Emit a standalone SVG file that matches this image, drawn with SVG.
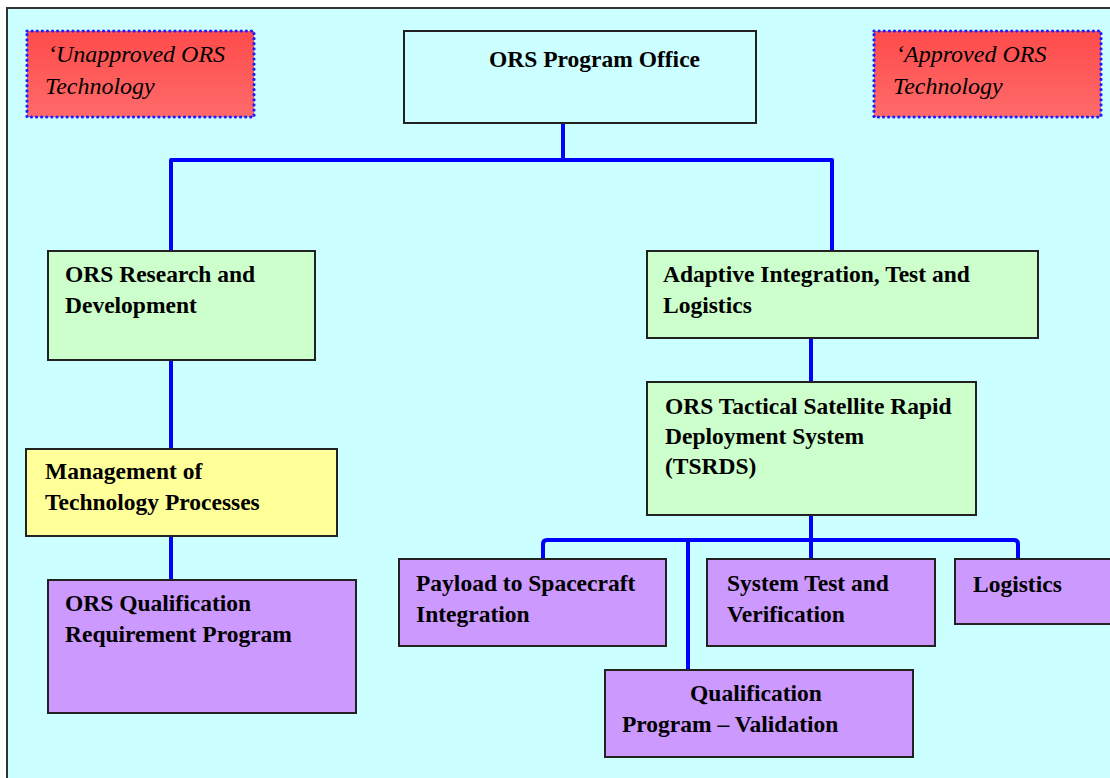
<svg xmlns="http://www.w3.org/2000/svg" width="1110" height="778" viewBox="0 0 1110 778">
  <defs>
    <linearGradient id="redFill" x1="0" y1="0" x2="0" y2="1">
      <stop offset="0" stop-color="#FF4B4B"/>
      <stop offset="1" stop-color="#FF6A6A"/>
    </linearGradient>
    <style>
      .box { stroke: #222; stroke-width: 2; }
      .office { fill: #CCFFFF; }
      .green { fill: #CCFFCC; }
      .yellow { fill: #FFFF99; }
      .purple { fill: #CC99FF; }
      .tag { fill: url(#redFill); stroke: #2020FF; stroke-width: 3.2; stroke-dasharray: 0.1 5; stroke-linecap: round; }
      .lbl { font-family: "Liberation Serif", "Times New Roman", serif; font-weight: bold; font-size: 23.5px; fill: #000; }
      .tagtxt { font-family: "Liberation Serif", "Times New Roman", serif; font-style: italic; font-size: 24px; fill: #000; }
      .wire { fill: none; stroke: #0000FF; stroke-width: 4; stroke-linejoin: round; }
    </style>
  </defs>

  <!-- page frame -->
  <rect x="0" y="0" width="1110" height="778" fill="#FFFFFF"/>
  <rect x="7" y="8" width="1110" height="780" fill="#CCFFFF" stroke="#333" stroke-width="2"/>

  <!-- connectors -->
  <g id="connectors">
    <path class="wire" d="M563,123 V160"/>
    <path class="wire" d="M171,250 V160 H832 V250"/>
    <path class="wire" d="M171,360 V449"/>
    <path class="wire" d="M171,536 V580"/>
    <path class="wire" d="M811,338 V381"/>
    <path class="wire" d="M811,515 V559"/>
    <path class="wire" d="M543,559 V544 Q543,540 547,540 H1014 Q1018,540 1018,544 V559"/>
    <path class="wire" d="M688,540 V670"/>
  </g>

  <g id="tag-unapproved">
    <rect class="tag" x="27" y="31" width="227" height="86"/>
    <text class="tagtxt" x="48" y="62">‘Unapproved ORS</text>
    <text class="tagtxt" x="45" y="94">Technology</text>
  </g>

  <g id="tag-approved">
    <rect class="tag" x="874" y="31" width="227" height="86"/>
    <text class="tagtxt" x="896" y="62">‘Approved ORS</text>
    <text class="tagtxt" x="893" y="94">Technology</text>
  </g>

  <g id="node-office">
    <rect class="box office" x="404" y="31" width="352" height="92"/>
    <text class="lbl" x="489" y="67">ORS Program Office</text>
  </g>

  <g id="node-rnd">
    <rect class="box green" x="48" y="251" width="267" height="109"/>
    <text class="lbl" x="65" y="282">ORS Research and</text>
    <text class="lbl" x="65" y="313">Development</text>
  </g>

  <g id="node-aitl">
    <rect class="box green" x="647" y="251" width="391" height="87"/>
    <text class="lbl" x="663" y="282">Adaptive Integration, Test and</text>
    <text class="lbl" x="663" y="313">Logistics</text>
  </g>

  <g id="node-tsrds">
    <rect class="box green" x="647" y="382" width="329" height="133"/>
    <text class="lbl" x="665" y="414">ORS Tactical Satellite Rapid</text>
    <text class="lbl" x="665" y="444">Deployment System</text>
    <text class="lbl" x="665" y="474">(TSRDS)</text>
  </g>

  <g id="node-mtp">
    <rect class="box yellow" x="26" y="449" width="311" height="87"/>
    <text class="lbl" x="45" y="479">Management of</text>
    <text class="lbl" x="45" y="510">Technology Processes</text>
  </g>

  <g id="node-qrp">
    <rect class="box purple" x="48" y="580" width="308" height="133"/>
    <text class="lbl" x="65" y="611">ORS Qualification</text>
    <text class="lbl" x="65" y="642">Requirement Program</text>
  </g>

  <g id="node-payload">
    <rect class="box purple" x="399" y="559" width="267" height="87"/>
    <text class="lbl" x="416" y="591">Payload to Spacecraft</text>
    <text class="lbl" x="416" y="622">Integration</text>
  </g>

  <g id="node-systest">
    <rect class="box purple" x="707" y="559" width="228" height="87"/>
    <text class="lbl" x="727" y="591">System Test and</text>
    <text class="lbl" x="727" y="622">Verification</text>
  </g>

  <g id="node-logistics">
    <rect class="box purple" x="955" y="559" width="170" height="65"/>
    <text class="lbl" x="973" y="592">Logistics</text>
  </g>

  <g id="node-validation">
    <rect class="box purple" x="605" y="670" width="308" height="87"/>
    <text class="lbl" x="756" y="701" text-anchor="middle">Qualification</text>
    <text class="lbl" x="622" y="732">Program – Validation</text>
  </g>
</svg>
